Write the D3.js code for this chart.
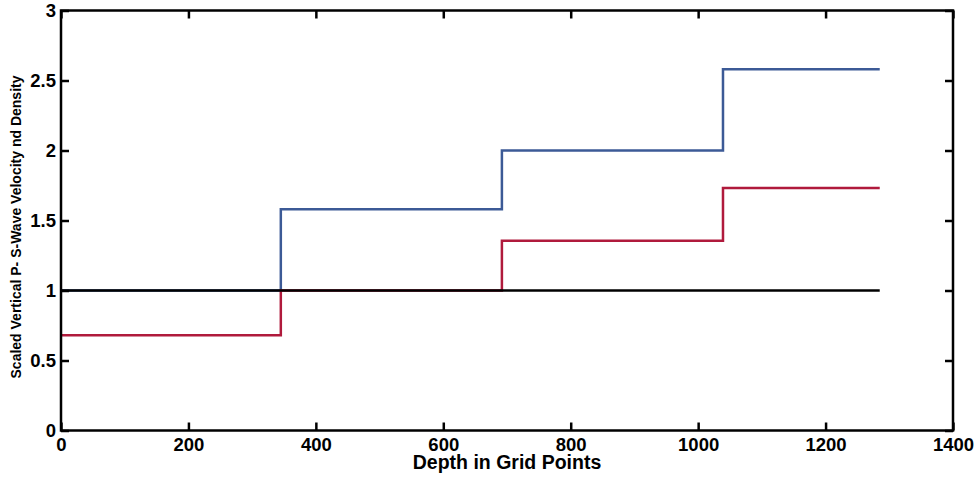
<!DOCTYPE html>
<html>
<head>
<meta charset="utf-8">
<script src="https://cdn.jsdelivr.net/npm/d3@7"></script>
<style>
  body { margin: 0; background: #fff; }
  text { font-family: "Liberation Sans", Arial, sans-serif; font-weight: bold; }
</style>
</head>
<body>
<svg id="chart" width="978" height="477"></svg>
<script>
"use strict";

// step profiles: [depth, value] breakpoints
var blueSteps = [[0, 1], [345, 1], [345, 1.58], [692, 1.58], [692, 2.0], [1039, 2.0], [1039, 2.58], [1285, 2.58]];
var redSteps = [[0, 0.68], [345, 0.68], [345, 1], [692, 1], [692, 1.355], [1039, 1.355], [1039, 1.733], [1285, 1.733]];
var blackLine = [[0, 1], [1285, 1]];

var xTicks = [0, 200, 400, 600, 800, 1000, 1200, 1400];
var yTicks = [0, 0.5, 1, 1.5, 2, 2.5, 3];

var svg = d3.select("#chart");
var mLeft = 61, mRight = 953, mTop = 10.5, mBottom = 430.5;

var x = d3.scaleLinear().domain([0, 1400]).range([mLeft, mRight]);
var y = d3.scaleLinear().domain([0, 3]).range([mBottom, mTop]);

var line = d3.line()
  .x(function (d) { return x(d[0]); })
  .y(function (d) { return y(d[1]); });

var plot = svg.append("g");

plot.append("path").datum(blueSteps)
  .attr("d", line).attr("fill", "none")
  .attr("stroke", "#3c5a96").attr("stroke-width", 2.5);

plot.append("path").datum(redSteps)
  .attr("d", line).attr("fill", "none")
  .attr("stroke", "#b01a3c").attr("stroke-width", 2.5);

plot.append("path").datum(blackLine)
  .attr("d", line).attr("fill", "none")
  .attr("stroke", "#000").attr("stroke-width", 2.5);

// box
svg.append("rect")
  .attr("x", mLeft).attr("y", mTop)
  .attr("width", mRight - mLeft).attr("height", mBottom - mTop)
  .attr("fill", "none").attr("stroke", "#000").attr("stroke-width", 2.5);

// axes
var xAxis = svg.append("g").attr("transform", "translate(0," + mBottom + ")")
  .call(d3.axisBottom(x).tickValues(xTicks).tickSize(-8).tickPadding(7).tickFormat(d3.format("d")));
var yAxis = svg.append("g").attr("transform", "translate(" + mLeft + ",0)")
  .call(d3.axisLeft(y).tickValues(yTicks).tickSize(-8).tickPadding(5).tickFormat(function (d) { return d; }));
svg.append("g").attr("transform", "translate(0," + mTop + ")")
  .call(d3.axisTop(x).tickValues(xTicks).tickSize(-8).tickFormat(""));
svg.append("g").attr("transform", "translate(" + mRight + ",0)")
  .call(d3.axisRight(y).tickValues(yTicks).tickSize(-8).tickFormat(""));

svg.selectAll(".domain").remove();
svg.selectAll(".tick line").attr("stroke", "#000").attr("stroke-width", 2.5);
xAxis.selectAll("text").attr("font-size", 18.5).attr("fill", "#000");
yAxis.selectAll("text").attr("font-size", 18.5).attr("fill", "#000");

svg.append("text")
  .attr("x", (mLeft + mRight) / 2).attr("y", 469)
  .attr("text-anchor", "middle").attr("font-size", 19.5)
  .text("Depth in Grid Points");

svg.append("text")
  .attr("transform", "translate(21," + 227 + ") rotate(-90)")
  .attr("text-anchor", "middle").attr("font-size", 14)
  .text("Scaled Vertical P- S-Wave Velocity nd Density");
</script>
</body>
</html>
